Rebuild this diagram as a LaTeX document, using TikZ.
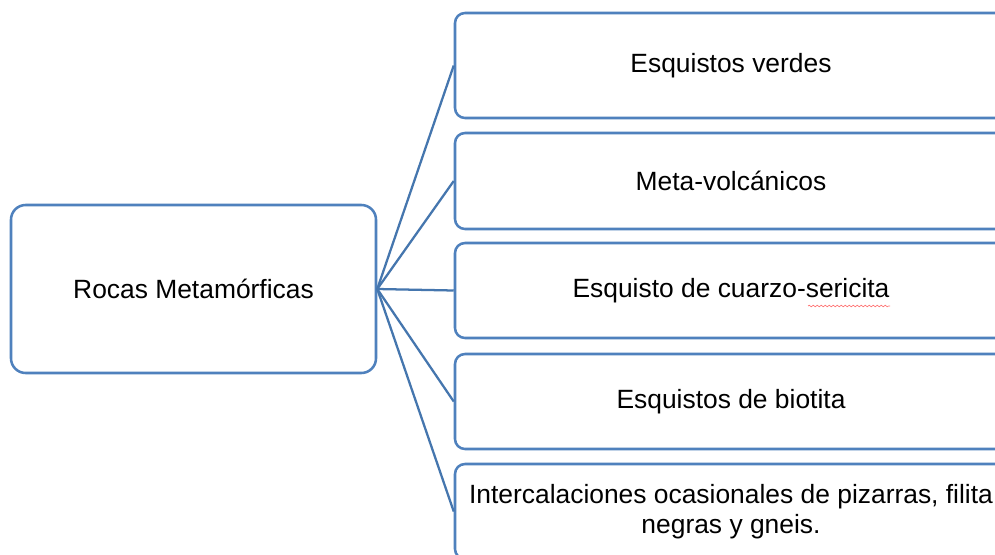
\documentclass[tikz,border=0pt]{standalone}
\usepackage{fontspec}
\setmainfont{Liberation Sans}
\usetikzlibrary{decorations.pathmorphing}
\definecolor{boxblue}{HTML}{4F81BD}
\definecolor{lineblue}{HTML}{4576AE}
\begin{document}
\begin{tikzpicture}[x=0.75pt,y=-0.75pt,
  every node/.style={font=\fontsize{19.8pt}{22.5pt}\selectfont, text=black},
  rootbox/.style={draw=boxblue, line width=1.9pt, rounded corners=11pt, fill=white,
    minimum width=273.75pt, minimum height=126pt, inner sep=0pt, align=center},
  leafbox/.style={draw=boxblue, line width=1.9pt, rounded corners=7.5pt, fill=white,
    minimum width=414pt, inner sep=0pt, align=center},
  link/.style={draw=lineblue, line width=1.7pt}]
\useasboundingbox (0,0) rectangle (995,554);
\clip (0,0) rectangle (995,554);
\fill[white] (0,0) rectangle (995,554);
\node[rootbox] (root) at (193.5,289) {Rocas Metamórficas};
\node[leafbox, minimum height=78.75pt] (l1) at (731,65.5) {Esquistos verdes};
\node[leafbox, minimum height=72pt] (l2) at (731,181) {Meta-volcánicos};
\node[leafbox, minimum height=71.25pt] (l3) at (731,290.5) {Esquisto de cuarzo-sericita};
\node[leafbox, minimum height=71.25pt] (l4) at (731,401.5) {Esquistos de biotita};
\node[leafbox, minimum height=71.25pt] (l5) at (731,511.5) {Intercalaciones ocasionales de pizarras, filita\\negras y gneis.};
\foreach \n in {l1,l2,l3,l4,l5} \draw[link] (root.east) -- (\n.west);
\draw[red!55, line width=0.5pt, decorate, decoration={snake, amplitude=0.6pt, segment length=3pt}] (808,306) -- (890,306);
\end{tikzpicture}
\end{document}
